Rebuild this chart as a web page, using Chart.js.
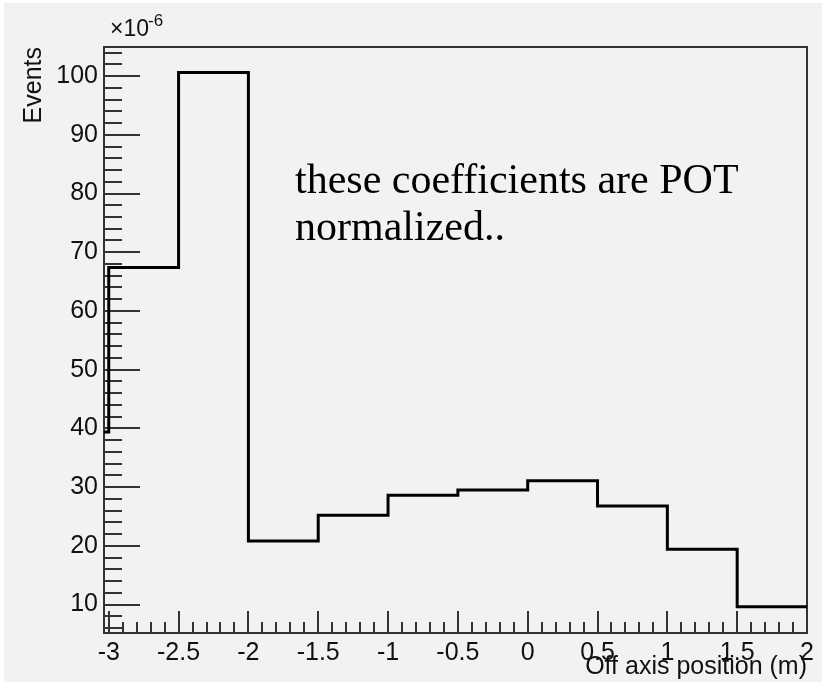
<!DOCTYPE html>
<html>
<head>
<meta charset="utf-8">
<script src="https://cdn.jsdelivr.net/npm/chart.js@4.4.1/dist/chart.umd.min.js"></script>
<style>
  body { margin: 0; background: #ffffff; }
  canvas { display: block; }
</style>
</head>
<body>
<canvas id="hist" width="822" height="685"></canvas>
<script>
// histogram bins (off axis position, m) and their contents (x 1e-6)
const binEdges = [-3, -2.5, -2, -1.5, -1, -0.5, 0, 0.5, 1, 1.5, 2];
const counts = [67.4, 100.6, 20.8, 25.2, 28.6, 29.5, 31.1, 26.8, 19.4, 9.6];
// level of the outline where it enters the frame, left of the first bin
const startValue = 39.4;

const xTicks = [-3, -2.5, -2, -1.5, -1, -0.5, 0, 0.5, 1, 1.5, 2];
const yTicks = [10, 20, 30, 40, 50, 60, 70, 80, 90, 100];

const xMin = -3.034, xMax = 2;
const yMin = 5.15, yMax = 104.95;

const sans = '"Liberation Sans", Arial, Helvetica, sans-serif';
const serif = '"Liberation Serif", "Times New Roman", Times, serif';

const points = [{ x: xMin, y: startValue }];
for (let i = 0; i < counts.length; i++) {
    points.push({ x: binEdges[i], y: counts[i] });
}
points.push({ x: binEdges[binEdges.length - 1], y: counts[counts.length - 1] });

// pad, frame and inward ROOT style tick marks
const rootFrame = {
    id: 'rootFrame',
    beforeDraw(chart) {
        const ctx = chart.ctx;
        ctx.save();
        ctx.fillStyle = '#ffffff';
        ctx.fillRect(0, 0, chart.width, chart.height);
        ctx.fillStyle = '#f2f2f2';
        ctx.fillRect(4, 3, chart.width - 4, 679);
        ctx.restore();
    },
    beforeDatasetsDraw(chart) {
        const ctx = chart.ctx;
        const a = chart.chartArea;
        const xs = chart.scales.x, ys = chart.scales.y;
        ctx.save();
        ctx.strokeStyle = '#333';
        ctx.lineWidth = 2;
        ctx.beginPath();
        // y ticks: majors every 10, minors every 2
        for (let v = 6; v <= 104; v += 2) {
            const py = Math.round(ys.getPixelForValue(v));
            const len = v % 10 === 0 ? 36 : 18;
            ctx.moveTo(a.left, py);
            ctx.lineTo(a.left + len, py);
        }
        // x ticks: majors every 0.5, minors every 0.1
        for (let k = -30; k <= 20; k++) {
            const px = Math.round(xs.getPixelForValue(k / 10));
            const len = k % 5 === 0 ? 22 : 11;
            ctx.moveTo(px, a.bottom);
            ctx.lineTo(px, a.bottom - len);
        }
        ctx.stroke();
        ctx.strokeStyle = '#333';
        ctx.lineWidth = 2;
        ctx.strokeRect(a.left, a.top, a.right - a.left, a.bottom - a.top);
        ctx.restore();
    },
    afterDraw(chart) {
        const ctx = chart.ctx;
        ctx.save();
        ctx.fillStyle = '#111';
        ctx.textBaseline = 'alphabetic';
        ctx.font = '23px ' + sans;
        ctx.fillText('\u00d710', 110, 36);
        ctx.font = '17px ' + sans;
        ctx.fillText('-6', 148, 26);
        ctx.fillStyle = '#000';
        ctx.font = '42px ' + serif;
        ctx.fillText('these coefficients are POT', 295, 193);
        ctx.fillText('normalized..', 295, 240);
        ctx.restore();
    }
};

new Chart(document.getElementById('hist'), {
    type: 'line',
    data: {
        datasets: [{
            data: points,
            stepped: 'before',
            borderColor: '#000',
            borderWidth: 3,
            pointRadius: 0,
            fill: false
        }]
    },
    options: {
        responsive: false,
        animation: false,
        layout: { padding: { top: 47, right: 15, left: 0, bottom: 0 } },
        plugins: { legend: { display: false }, tooltip: { enabled: false } },
        scales: {
            x: {
                type: 'linear',
                min: xMin,
                max: xMax,
                grid: { display: false, drawTicks: false },
                border: { display: false },
                afterBuildTicks: s => { s.ticks = xTicks.map(v => ({ value: v })); },
                afterFit: s => { s.height = 52; },
                ticks: {
                    color: '#111',
                    padding: 5,
                    maxRotation: 0,
                    autoSkip: false,
                    font: { family: sans, size: 25 },
                    callback: v => String(v)
                },
                title: {
                    display: true,
                    text: 'Off axis position (m)',
                    align: 'end',
                    color: '#111',
                    padding: { top: 0, bottom: 3 },
                    font: { family: sans, size: 25 }
                }
            },
            y: {
                min: yMin,
                max: yMax,
                grid: { display: false, drawTicks: false },
                border: { display: false },
                afterBuildTicks: s => { s.ticks = yTicks.map(v => ({ value: v })); },
                afterFit: s => { s.width = 104; },
                ticks: {
                    color: '#111',
                    padding: 6,
                    autoSkip: false,
                    font: { family: sans, size: 25 },
                    callback: v => String(v)
                },
                title: {
                    display: true,
                    text: 'Events',
                    align: 'end',
                    color: '#111',
                    padding: { top: 19, bottom: 0 },
                    font: { family: sans, size: 25 }
                }
            }
        }
    },
    plugins: [rootFrame]
});
</script>
</body>
</html>
